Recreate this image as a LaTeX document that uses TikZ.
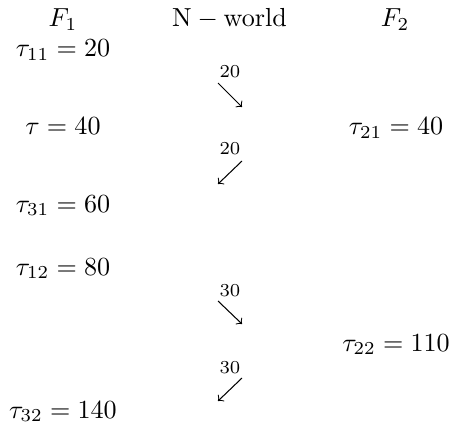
\documentclass[tikz,border=0pt]{standalone}
\begin{document}
\begin{tikzpicture}[x=0.383pt,y=-0.383pt,
  val/.style={anchor=base,inner sep=0pt},
  wt/.style={anchor=base,inner sep=0pt,font=\scriptsize}]
  \useasboundingbox (0,0) rectangle (449,436);
  % column heads
  \node[val] (f1) at (63,27) {$F_1$};
  \node[val] (nw) at (229.5,27) {$\mathrm{N}-\mathrm{world}$};
  \node[val] (f2) at (395,27) {$F_2$};
  % left column
  \node[val] (t11) at (63,57) {$\tau_{11}=20$};
  \node[val] (t) at (63,135) {$\tau=40$};
  \node[val] (t31) at (63,212) {$\tau_{31}=60$};
  \node[val] (t12) at (63,275) {$\tau_{12}=80$};
  \node[val] (t32) at (63,418) {$\tau_{32}=140$};
  % right column
  \node[val] (t21) at (396,135) {$\tau_{21}=40$};
  \node[val] (t22) at (396,351) {$\tau_{22}=110$};
  % delays
  \node[wt] (d1) at (230,78) {$20$};
  \node[wt] (d2) at (230,155) {$20$};
  \node[wt] (d3) at (230,296) {$30$};
  \node[wt] (d4) at (230,373) {$30$};
  \coordinate (a1s) at (218,83);  \coordinate (a1e) at (242,107);
  \coordinate (a2s) at (242,161); \coordinate (a2e) at (218,184);
  \coordinate (a3s) at (218,301); \coordinate (a3e) at (242,324);
  \coordinate (a4s) at (242,378); \coordinate (a4e) at (218,401);
  \draw[->] (a1s) -- (a1e);
  \draw[->] (a2s) -- (a2e);
  \draw[->] (a3s) -- (a3e);
  \draw[->] (a4s) -- (a4e);
\end{tikzpicture}
\end{document}
